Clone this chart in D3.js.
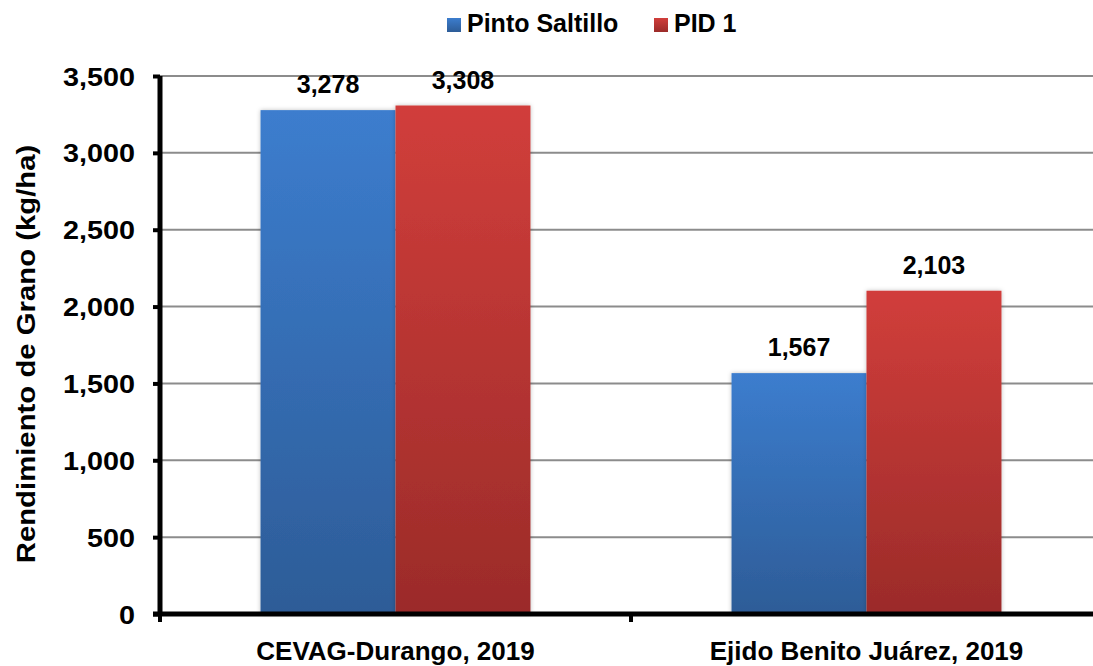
<!DOCTYPE html>
<html>
<head>
<meta charset="utf-8">
<script src="https://cdn.jsdelivr.net/npm/d3@7"></script>
<style>
  body { margin: 0; background: #fff; }
  text { font-family: Arial, "Liberation Sans", sans-serif; font-weight: bold; fill: #000; }
</style>
</head>
<body>
<div id="chart"></div>
<script>
const categories = ['CEVAG-Durango, 2019', 'Ejido Benito Juárez, 2019']
const series = ['Pinto Saltillo', 'PID 1']
const pintoSaltillo = [3278, 1567]
const pid1 = [3308, 2103]
const yTicks = [0, 500, 1000, 1500, 2000, 2500, 3000, 3500]
const colors = [
  { top: '#3c7dce', bottom: '#2d5c97' },
  { top: '#d13e3b', bottom: '#9b2b29' }
]

const width = 1093
const height = 666
const margin = { top: 76, right: -9, bottom: 52, left: 160 }
const fmt = d3.format(',')

const svg = d3.select('#chart').append('svg')
  .attr('width', width)
  .attr('height', height)

const defs = svg.append('defs')
colors.forEach((c, i) => {
  const g = defs.append('linearGradient')
    .attr('id', 'grad' + i)
    .attr('x1', 0).attr('y1', 0).attr('x2', 0).attr('y2', 1)
  g.append('stop').attr('offset', '0%').attr('stop-color', c.top)
  g.append('stop').attr('offset', '100%').attr('stop-color', c.bottom)
})
const shadow = defs.append('filter').attr('id', 'shadow')
  .attr('x', '-10%').attr('y', '-10%').attr('width', '120%').attr('height', '120%')
shadow.append('feDropShadow')
  .attr('dx', 0).attr('dy', 0).attr('stdDeviation', 2)
  .attr('flood-color', '#000').attr('flood-opacity', 0.25)

const x0 = d3.scaleBand()
  .domain(categories)
  .range([margin.left, width - margin.right])

const x1 = d3.scaleBand()
  .domain(series)
  .range([0, x0.bandwidth()])
  .paddingInner(0)
  .paddingOuter(0.745)

const y = d3.scaleLinear()
  .domain([0, 3500])
  .range([height - margin.bottom, margin.top])

// gridlines
svg.append('g')
  .selectAll('line')
  .data(yTicks.filter(d => d > 0))
  .join('line')
  .attr('x1', margin.left)
  .attr('x2', width)
  .attr('y1', d => y(d))
  .attr('y2', d => y(d))
  .attr('stroke', '#8c8c8c')
  .attr('stroke-width', 2)

// bars
const rows = categories.map((c, i) => ({ cat: c, values: [pintoSaltillo[i], pid1[i]] }))
const groups = svg.append('g')
  .selectAll('g')
  .data(rows)
  .join('g')
  .attr('transform', d => `translate(${x0(d.cat)},0)`)

groups.selectAll('rect')
  .data(d => d.values.map((v, i) => ({ s: series[i], v, i })))
  .join('rect')
  .attr('x', d => x1(d.s))
  .attr('y', d => y(d.v))
  .attr('width', x1.bandwidth())
  .attr('height', d => y(0) - y(d.v))
  .attr('fill', d => `url(#grad${d.i})`)
  .attr('filter', 'url(#shadow)')

groups.selectAll('text')
  .data(d => d.values.map((v, i) => ({ s: series[i], v, i })))
  .join('text')
  .attr('x', d => x1(d.s) + x1.bandwidth() / 2)
  .attr('y', d => y(d.v) - 17)
  .attr('text-anchor', 'middle')
  .style('font-size', '25px')
  .text(d => fmt(d.v))

// y axis
const yAxis = svg.append('g')
  .attr('transform', `translate(${margin.left},0)`)
  .call(d3.axisLeft(y).tickValues(yTicks).tickFormat(fmt).tickSize(7).tickPadding(25))
yAxis.select('.domain').attr('stroke', '#000').attr('stroke-width', 5)
  .attr('d', `M0,${y(3500)}V${y(0)}`)
yAxis.selectAll('.tick line').attr('stroke', '#000').attr('stroke-width', 4)
yAxis.selectAll('.tick text')
  .style('font-size', '25px')
  .attr('dy', '0.36em')
  .attr('x', null)
  .attr('transform', 'translate(-25,0) scale(1.15,1)')

// x axis
const xAxis = svg.append('g')
  .attr('transform', `translate(0,${y(0)})`)
xAxis.append('line')
  .attr('x1', margin.left - 7).attr('x2', width)
  .attr('y1', 0).attr('y2', 0)
  .attr('stroke', '#000').attr('stroke-width', 5)
xAxis.selectAll('.tk')
  .data(categories)
  .join('line')
  .attr('class', 'tk')
  .attr('x1', d => x0(d)).attr('x2', d => x0(d))
  .attr('y1', 0).attr('y2', 8)
  .attr('stroke', '#000').attr('stroke-width', 4)
xAxis.selectAll('text')
  .data(categories)
  .join('text')
  .attr('x', d => x0(d) + x0.bandwidth() / 2)
  .attr('y', 46)
  .attr('text-anchor', 'middle')
  .style('font-size', '26px')
  .text(d => d)

// y title
svg.append('text')
  .attr('transform', 'translate(35,354) rotate(-90) scale(1.15,1)')
  .attr('text-anchor', 'middle')
  .style('font-size', '25.5px')
  .text('Rendimiento de Grano (kg/ha)')

// legend
const legendItems = [
  { name: series[0], x: 447, i: 0 },
  { name: series[1], x: 654, i: 1 }
]
const legend = svg.append('g')
legend.selectAll('rect')
  .data(legendItems)
  .join('rect')
  .attr('x', d => d.x).attr('y', 18)
  .attr('width', 14).attr('height', 14)
  .attr('fill', d => `url(#grad${d.i})`)
legend.selectAll('text')
  .data(legendItems)
  .join('text')
  .attr('x', d => d.x + 20).attr('y', 32)
  .style('font-size', '25px')
  .text(d => d.name)
</script>
</body>
</html>
